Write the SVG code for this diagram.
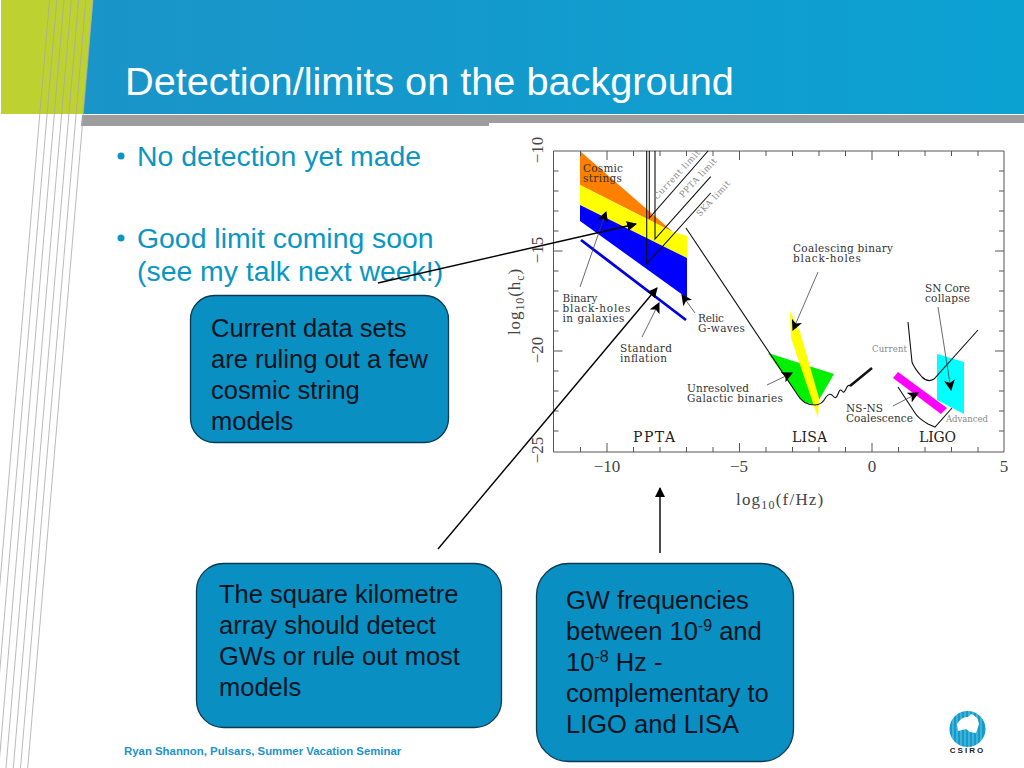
<svg xmlns="http://www.w3.org/2000/svg" width="1024" height="768" viewBox="0 0 1024 768">
<defs>
<linearGradient id="hd" x1="0" y1="0" x2="1" y2="0"><stop offset="0" stop-color="#1a94c9"/><stop offset="1" stop-color="#0ba2d2"/></linearGradient>
<marker id="ah" viewBox="0 0 10 10" refX="9" refY="5" markerWidth="11" markerHeight="11" markerUnits="userSpaceOnUse" orient="auto"><path d="M0 0L10 5L0 10L2.5 5Z" fill="#000"/></marker>
<marker id="ab" viewBox="0 0 10 10" refX="9" refY="5" markerWidth="10" markerHeight="10" markerUnits="userSpaceOnUse" orient="auto"><path d="M0 0L10 5L0 10Z" fill="#000"/></marker>
</defs>
<style>
.dl{stroke:#a8a8a8;stroke-width:.8;fill:none}
.tx{font-family:"Liberation Sans",Arial,sans-serif}
.bul{font-size:28.4px;fill:#0a96c4}
.box{fill:#0a8fc2;stroke:#0b3a52;stroke-width:1.3}
.bt{font-size:25.500px;fill:#04141f}
.pl{font-family:"DejaVu Serif","Liberation Serif",serif;fill:#333;font-size:10.500px}
.pt{font-family:"Liberation Serif",serif;fill:#444;font-size:17px}
.pb{font-family:"DejaVu Serif",serif;fill:#222;font-size:14px}
.sm{font-size:8.500px;fill:#888}
.ln{stroke:#111;stroke-width:1.1;fill:none}
.ann{stroke:#444;stroke-width:.8;fill:none;marker-end:url(#ah)}
.big{stroke:#000;stroke-width:1.4;fill:none;marker-end:url(#ab)}
.ax{stroke:#555;stroke-width:1;fill:none}
</style>
<rect width="1024" height="768" fill="#fff"/>
<g id="header">
<polygon points="1,0 93,0 83,114 1,114" fill="#bdd231"/>
<polygon points="93,0 1024,0 1024,114 83,114" fill="url(#hd)"/>
<polygon points="82,115 1024,115 1024,126 81,126" fill="#9d9d9f"/>
<g class="dl">
<line x1="49.500" y1="0" x2="-15.800" y2="768"/><line x1="56.800" y1="0" x2="-8.500" y2="768"/><line x1="64" y1="0" x2="-1.300" y2="768"/><line x1="71.300" y1="0" x2="6" y2="768"/><line x1="78.600" y1="0" x2="13.300" y2="768"/><line x1="85.800" y1="0" x2="20.500" y2="768"/><line x1="93" y1="0" x2="27.700" y2="768"/>
</g>
<text class="tx" x="125" y="95" font-size="39.700" fill="#fff">Detection/limits on the background</text>
</g>
<g id="bullets" class="tx bul">
<circle cx="121" cy="156" r="3.500" fill="#0a96c4"/>
<text x="137" y="166">No detection yet made</text>
<circle cx="121" cy="238" r="3.500" fill="#0a96c4"/>
<text x="137" y="248">Good limit coming soon</text>
<text x="137" y="281">(see my talk next week!)</text>
</g>
<g id="plot">
<rect x="489" y="123" width="535" height="400" fill="#fff"/>
<g id="bands">
<polygon points="580,151 673,232 580,185" fill="#ff7f00"/>
<polygon points="580,185 673,232 687,236 687,258 580,205" fill="#ffff00"/>
<polygon points="580,205 687,258 687,298 580,221" fill="#0000ff"/>
<line x1="581" y1="240" x2="686" y2="320" stroke="#0000e0" stroke-width="2.800"/>
<polygon points="768,353 834,374 816,405 803,402" fill="#00f000"/>
<polygon points="790,311 800,332 819,398 818,418 791,338" fill="#ffff00"/>
<polygon points="898,372 947,408 941,414 893,378" fill="#ff00ff"/>
<polygon points="937,354 964,362 964,414 937,400" fill="#00ffff"/>
</g>
<g id="axes" class="ax">
<path d="M553.500 151V452H1004V151H553.500"/>
<path d="M553.500 171h5M553.500 191h5M553.500 211h5M553.500 231h5M553.500 251h9M553.500 271h5M553.500 291h5M553.500 311h5M553.500 331h5M553.500 351h9M553.500 371h5M553.500 391h5M553.500 411h5M553.500 431h5"/>
<path d="M1004 171h-5M1004 191h-5M1004 211h-5M1004 231h-5M1004 251h-9M1004 271h-5M1004 291h-5M1004 311h-5M1004 331h-5M1004 351h-9M1004 371h-5M1004 391h-5M1004 411h-5M1004 431h-5"/>
<path d="M580.500 452v-5M607 452v-9M633.500 452v-5M660 452v-5M686.500 452v-5M713 452v-5M739.500 452v-9M766 452v-5M792.500 452v-5M819 452v-5M845.500 452v-5M872 452v-9M898.500 452v-5M925 452v-5M951.500 452v-5M978 452v-5"/>
<path d="M580.500 151v5M607 151v9M633.500 151v5M660 151v5M686.500 151v5M713 151v5M739.500 151v9M766 151v5M792.500 151v5M819 151v5M845.500 151v5M872 151v9M898.500 151v5M925 151v5M951.500 151v5M978 151v5"/>
</g>
<g id="curves">
<path class="ln" d="M649.300 151V218L708 151"/>
<path class="ln" d="M655 151V239L710.700 176.700"/>
<path class="ln" d="M646.700 151V264L710.700 193"/>
<path class="ln" d="M686 228L797 394Q803 405 815 405Q822 405 826 397Q830 392 833 396T838 394T842 391T846 389T850 386"/>
<path d="M850 386L872 368" stroke="#111" stroke-width="2.500" fill="none"/>
<path class="ln" d="M908 322L912 362Q914 368 922 377Q928 383 934 379L978 330"/>
<path class="ln" d="M898 387L915 413Q918 418 928 424L935 427L952 408"/>
</g>
<g id="annotations">
<path class="ann" d="M818 272L793 330"/>
<path class="ann" d="M938 307L951 390"/>
<path class="ann" d="M893 406L918 393"/>
<path class="ann" d="M767 385L792 373"/>
<path class="ann" d="M580 287L606 212"/>
<path class="ann" d="M695 313L682 295"/>
<path class="ann" d="M642 337L659 303"/>
</g>
<g id="plot-labels">
<text class="pl" x="583" y="172" textLength="40">Cosmic</text><text class="pl" x="583" y="182" textLength="39">strings</text>
<text class="pl" x="562.500" y="302" textLength="35">Binary</text><text class="pl" x="562.500" y="312" textLength="68">black-holes</text><text class="pl" x="562.500" y="322" textLength="62">in galaxies</text>
<text class="pl" x="698" y="322" textLength="26">Relic</text><text class="pl" x="698" y="332" textLength="47">G-waves</text>
<text class="pl" x="620" y="352" textLength="52">Standard</text><text class="pl" x="620" y="362" textLength="47">inflation</text>
<text class="pl" x="687" y="392" textLength="62">Unresolved</text><text class="pl" x="687" y="402" textLength="96">Galactic binaries</text>
<text class="pl" x="793" y="252" textLength="100">Coalescing binary</text><text class="pl" x="793" y="262" textLength="68">black-holes</text>
<text class="pl" x="925" y="292" textLength="45">SN Core</text><text class="pl" x="925" y="302" textLength="45">collapse</text>
<text class="pl" x="846" y="412" textLength="37">NS-NS</text><text class="pl" x="846" y="422" textLength="67">Coalescence</text>
<text class="pl sm" x="872" y="352" textLength="35">Current</text><text class="pl sm" x="946" y="422" textLength="42">Advanced</text>
<text class="pl sm" transform="translate(657 200) rotate(-47)" textLength="64">Current limit</text>
<text class="pl sm" transform="translate(683 198) rotate(-47)" textLength="50">PPTA limit</text>
<text class="pl sm" transform="translate(700 217) rotate(-47)" textLength="45">SKA limit</text>
<text class="pb" x="633" y="442" textLength="42">PPTA</text><text class="pb" x="792" y="442" textLength="35">LISA</text><text class="pb" x="919" y="442" textLength="37">LIGO</text>
<text class="pt" text-anchor="middle" x="607" y="472">−10</text><text class="pt" text-anchor="middle" x="739" y="472">−5</text><text class="pt" text-anchor="middle" x="872" y="472">0</text><text class="pt" text-anchor="middle" x="1004" y="472">5</text>
<text class="pt" text-anchor="middle" transform="translate(543 150) rotate(-90)">−10</text>
<text class="pt" text-anchor="middle" transform="translate(543 250) rotate(-90)">−15</text>
<text class="pt" text-anchor="middle" transform="translate(543 350) rotate(-90)">−20</text>
<text class="pt" text-anchor="middle" transform="translate(543 450) rotate(-90)">−25</text>
<text class="pt" letter-spacing=".9" transform="translate(520 335) rotate(-90)">log<tspan font-size="12" dy="4">10</tspan><tspan dy="-4">(h</tspan><tspan font-size="12" dy="4">c</tspan><tspan dy="-4">)</tspan></text>
<text class="pt" letter-spacing="1.200" x="736" y="505">log<tspan font-size="12" dy="4">10</tspan><tspan dy="-4">(f/Hz)</tspan></text>
</g>
</g>
<g id="connectors">
<path class="big" d="M378 283L636 224"/>
<path class="big" d="M438 549L657 288"/>
<path class="big" d="M660 553V488"/>
</g>
<g id="box-current">
<rect class="box" x="190.500" y="295.500" width="258" height="147" rx="24"/>
<g class="tx bt"><text x="211" y="337">Current data sets</text><text x="211" y="368">are ruling out a few</text><text x="211" y="399">cosmic string</text><text x="211" y="430">models</text></g>
</g>
<g id="box-ska">
<rect class="box" x="196.500" y="563.500" width="305" height="164" rx="27"/>
<g class="tx bt"><text x="219" y="603">The square kilometre</text><text x="219" y="634">array should detect</text><text x="219" y="665">GWs or rule out most</text><text x="219" y="696">models</text></g>
</g>
<g id="box-gw">
<rect class="box" x="536.500" y="563.500" width="257" height="198" rx="32"/>
<g class="tx bt"><text x="566" y="609">GW frequencies</text><text x="566" y="640">between 10<tspan font-size="16" dy="-9">-9</tspan><tspan dy="9"> and</tspan></text><text x="566" y="671">10<tspan font-size="16" dy="-9">-8</tspan><tspan dy="9"> Hz -</tspan></text><text x="566" y="702">complementary to</text><text x="566" y="733">LIGO and LISA</text></g>
</g>
<text id="footer" class="tx" x="124" y="755" font-size="11.400" font-weight="bold" fill="#1a94c9">Ryan Shannon, Pulsars, Summer Vacation Seminar</text>
<g id="logo">
<circle cx="967.500" cy="729" r="18" fill="#129ccb"/>
<path d="M957 724Q962 716 968 717L971 714Q978 716 979 724L976 733L970 732L966 729L958 731Z" fill="#fff"/>
<path d="M953 715V743M957 713V745M961 712V746M965 711V747M969 711V747M973 711V747M977 712V746M981 714V744" stroke="#fff" stroke-width=".7" opacity=".6"/>
<text class="tx" x="967.500" y="753" text-anchor="middle" font-size="8" font-weight="bold" letter-spacing="2" fill="#222">CSIRO</text>
</g>
</svg>
